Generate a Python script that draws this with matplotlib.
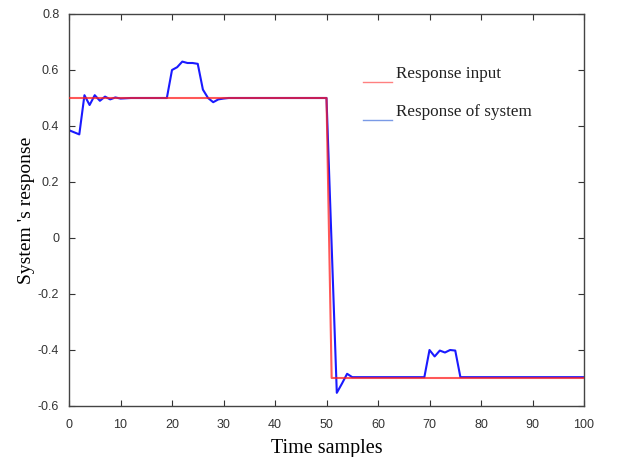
import matplotlib
matplotlib.use("Agg")
import matplotlib.pyplot as plt

# Reference input: step from 0.5 to -0.5
input_x = [0, 50, 51, 100]
input_y = [0.5, 0.5, -0.5, -0.5]

# Measured system response
resp_x = [0, 2, 3, 4, 5, 6, 7, 8, 9, 10, 12, 14, 16, 19,
          20, 21, 22, 23, 24, 25, 26, 27, 28, 29, 30, 31,
          40, 50, 52, 53, 54, 55, 60, 69,
          70, 71, 72, 73, 74, 75, 76, 80, 90, 100]
resp_y = [0.385, 0.37, 0.51, 0.475, 0.51, 0.49, 0.505, 0.495, 0.502, 0.498, 0.5, 0.5, 0.5, 0.5,
          0.60, 0.61, 0.63, 0.625, 0.625, 0.622, 0.53, 0.5, 0.485, 0.495, 0.498, 0.5,
          0.5, 0.5, -0.553, -0.52, -0.485, -0.497, -0.497, -0.497,
          -0.40, -0.423, -0.402, -0.409, -0.400, -0.402, -0.497, -0.497, -0.497, -0.497]

x_ticks = [0, 10, 20, 30, 40, 50, 60, 70, 80, 90, 100]
y_ticks = [-0.6, -0.4, -0.2, 0, 0.2, 0.4, 0.6, 0.8]

fig = plt.figure(figsize=(6.18, 4.57), dpi=100)
ax = fig.add_axes([69 / 618, 51 / 457, 515 / 618, 392 / 457])

ax.plot(resp_x, resp_y, color="#1a1aff", lw=1.5, zorder=2)
ax.plot(input_x, input_y, color="#ff2020", lw=1.5, alpha=0.75, zorder=3)

ax.set_xlim(0, 100)
ax.set_ylim(-0.6, 0.8)
ax.set_xticks(x_ticks)
ax.set_yticks(y_ticks)
ax.set_xticklabels([str(v) for v in x_ticks])
ax.set_yticklabels(["-0.6", "-0.4", "-0.2", "0", "0.2", "0.4", "0.6", "0.8"])
ax.tick_params(direction="in", top=True, right=True, length=4, width=0.8,
               labelsize=9, labelcolor="#333333", color="#333333")
ax.tick_params(axis="x", pad=9)
ax.tick_params(axis="y", pad=7)
for lbl in ax.get_xticklabels() + ax.get_yticklabels():
    lbl.set_family("Liberation Sans")
for s in ax.spines.values():
    s.set_color("#444444")
    s.set_linewidth(1.0)

ax.set_xlabel("Time samples", family="Liberation Serif", fontsize=14.5, labelpad=6)
ax.set_ylabel("System 's response", family="Liberation Serif", fontsize=14, labelpad=2)

# Legend drawn as short line samples with captions
legend_items = [("Response input", "#ff8080", 0.557), ("Response of system", "#7a9ae6", 0.421)]
for text, col, yy in legend_items:
    ax.plot([57, 62.8], [yy, yy], color=col, lw=1.0, clip_on=False)
    ax.text(63.5, yy + 0.029, text, family="Liberation Serif", fontsize=12.3,
            va="center", ha="left", color="#222222")

fig.savefig("out.png", dpi=100)
